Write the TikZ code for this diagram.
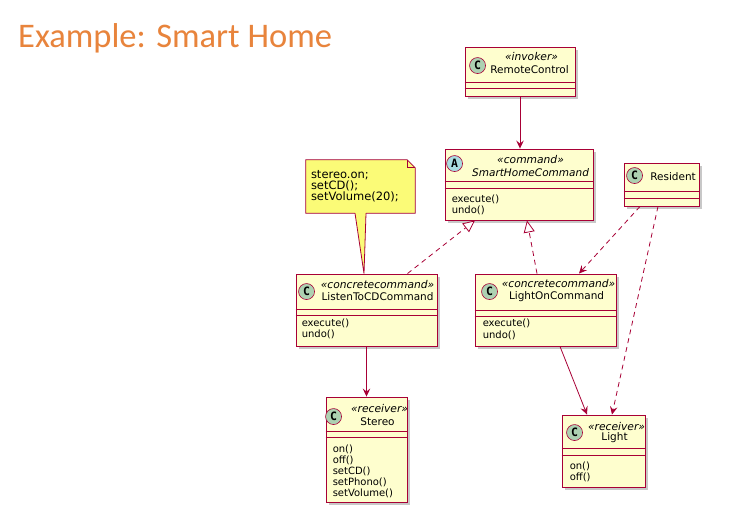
\documentclass[tikz,border=0pt]{standalone}
\usepackage{fontspec}
\setmainfont{DejaVu Sans}
\newfontfamily\titlefont{Carlito}
\newfontfamily\circfont{DejaVu Sans Mono}
\usetikzlibrary{calc}
\usetikzlibrary{positioning}
\usetikzlibrary{arrows.meta}
\usetikzlibrary{shadows}
\definecolor{umlred}{HTML}{A80036}
\definecolor{classbg}{HTML}{FEFECE}
\definecolor{notebg}{HTML}{FBFB77}
\definecolor{circC}{HTML}{ADD1B2}
\definecolor{circA}{HTML}{A9DCDF}
\definecolor{titleorange}{HTML}{E8843C}
\tikzstyle{classbox} = [draw=umlred, fill=classbg, line width=0.9pt, inner sep=0pt, drop shadow={shadow xshift=3pt, shadow yshift=-3pt, opacity=0.3, fill=black!70}]
\tikzstyle{sepline} = [draw=umlred, line width=0.9pt]
\tikzstyle{circnode} = [draw=umlred, circle, line width=0.6pt, minimum size=16pt, inner sep=0pt, font=\circfont\bfseries\fontsize{11.5}{11}\selectfont]
\tikzstyle{stereo} = [inner sep=0pt, font=\itshape\fontsize{10.7}{12}\selectfont]
\tikzstyle{cname} = [inner sep=0pt, font=\fontsize{10.5}{12}\selectfont]
\tikzstyle{method} = [inner sep=0pt, anchor=west, font=\fontsize{10}{12}\selectfont]
\tikzstyle{notetext} = [inner sep=0pt, anchor=west, align=left, font=\fontsize{11.5}{11}\selectfont]
\tikzstyle{assoc} = [draw=umlred, line width=0.8pt, -{Stealth[length=8pt,width=7.5pt,inset=3pt]}]
\tikzstyle{dep} = [assoc, dash pattern=on 5pt off 4pt]
\tikzstyle{real} = [draw=umlred, line width=0.8pt, dash pattern=on 5pt off 4pt, -{Triangle[open,length=12pt,width=11pt,fill=white]}]

\begin{document}
\begin{tikzpicture}[x=1pt, y=-1pt]
    \fill[white] (0,0) rectangle (734,520);
    \useasboundingbox (0,0) rectangle (734,520);

    \node[anchor=base west, inner sep=0pt, text=titleorange,
font=\titlefont\fontsize{34.5}{40}\selectfont] (title) at (18,47) {Example: Smart Home};

    % invoker
    \node[classbox, minimum width=110, minimum height=49] (rc) at (520,71.5) {};
    \draw[sepline] ($(rc.north west)+(0,36)$) -- ($(rc.north east)+(0,36)$);
    \draw[sepline] ($(rc.north west)+(0,42)$) -- ($(rc.north east)+(0,42)$);
    \node[circnode, fill=circC] (rc_c) at ($(rc.north west)+(13,19)$) {C};
    \node[stereo] (rc_st) at ($(rc.north west)+(67,10)$) {«invoker»};
    \node[cname] (rc_n) at ($(rc.north west)+(65,23)$) {RemoteControl};

    % command
    \node[classbox, minimum width=148, minimum height=71] (shc) at (519,184.5) {};
    \draw[sepline] ($(shc.north west)+(0,33)$) -- ($(shc.north east)+(0,33)$);
    \draw[sepline] ($(shc.north west)+(0,40)$) -- ($(shc.north east)+(0,40)$);
    \node[circnode, fill=circA] (shc_c) at ($(shc.north west)+(10,15)$) {A};
    \node[stereo] (shc_st) at ($(shc.north west)+(86,11)$) {«command»};
    \node[cname, font=\itshape\fontsize{10.5}{12}\selectfont] (shc_n) at
($(shc.north west)+(86,24)$) {SmartHomeCommand};
    \node[method] (shc_m1) at ($(shc.north west)+(7,51)$) {execute()};
    \node[method] (shc_m2) at ($(shc.north west)+(7,62)$) {undo()};

    % client
    \node[classbox, minimum width=75, minimum height=43] (res) at (661.5,184.5) {};
    \draw[sepline] ($(res.north west)+(0,29)$) -- ($(res.north east)+(0,29)$);
    \draw[sepline] ($(res.north west)+(0,36)$) -- ($(res.north east)+(0,36)$);
    \node[circnode, fill=circC] (res_c) at ($(res.north west)+(11,13)$) {C};
    \node[cname] (res_n) at ($(res.north west)+(49.5,14)$) {Resident};

    % concrete commands
    \node[classbox, minimum width=141, minimum height=72] (lcd) at (366.5,310) {};
    \draw[sepline] ($(lcd.north west)+(0,36)$) -- ($(lcd.north east)+(0,36)$);
    \draw[sepline] ($(lcd.north west)+(0,42)$) -- ($(lcd.north east)+(0,42)$);
    \node[circnode, fill=circC] (lcd_c) at ($(lcd.north west)+(11,18)$) {C};
    \node[stereo] (lcd_st) at ($(lcd.north west)+(82,11)$) {«concretecommand»};
    \node[cname] (lcd_n) at ($(lcd.north west)+(82,23)$) {ListenToCDCommand};
    \node[method] (lcd_m1) at ($(lcd.north west)+(6,50)$) {execute()};
    \node[method] (lcd_m2) at ($(lcd.north west)+(6,61)$) {undo()};

    \node[classbox, minimum width=141, minimum height=72] (loc) at (545.5,310) {};
    \draw[sepline] ($(loc.north west)+(0,37)$) -- ($(loc.north east)+(0,37)$);
    \draw[sepline] ($(loc.north west)+(0,43)$) -- ($(loc.north east)+(0,43)$);
    \node[circnode, fill=circC] (loc_c) at ($(loc.north west)+(15,18)$) {C};
    \node[stereo] (loc_st) at ($(loc.north west)+(84,10)$) {«concretecommand»};
    \node[cname] (loc_n) at ($(loc.north west)+(82,23)$) {LightOnCommand};
    \node[method] (loc_m1) at ($(loc.north west)+(8,50)$) {execute()};
    \node[method] (loc_m2) at ($(loc.north west)+(8,62)$) {undo()};

    % receivers
    \node[classbox, minimum width=81, minimum height=105] (st) at (366.5,449.5) {};
    \draw[sepline] ($(st.north west)+(0,35)$) -- ($(st.north east)+(0,35)$);
    \draw[sepline] ($(st.north west)+(0,41)$) -- ($(st.north east)+(0,41)$);
    \node[circnode, fill=circC] (st_c) at ($(st.north west)+(8,20)$) {C};
    \node[stereo] (st_st) at ($(st.north west)+(54,12)$) {«receiver»};
    \node[cname] (st_n) at ($(st.north west)+(52,25)$) {Stereo};
    \node[method] (st_m1) at ($(st.north west)+(7,53)$) {on()};
    \node[method] (st_m2) at ($(st.north west)+(7,64)$) {off()};
    \node[method] (st_m3) at ($(st.north west)+(7,75)$) {setCD()};
    \node[method] (st_m4) at ($(st.north west)+(7,86)$) {setPhono()};
    \node[method] (st_m5) at ($(st.north west)+(7,97)$) {setVolume()};

    \node[classbox, minimum width=83, minimum height=72] (li) at (603.5,451) {};
    \draw[sepline] ($(li.north west)+(0,34)$) -- ($(li.north east)+(0,34)$);
    \draw[sepline] ($(li.north west)+(0,41)$) -- ($(li.north east)+(0,41)$);
    \node[circnode, fill=circC] (li_c) at ($(li.north west)+(13,18)$) {C};
    \node[stereo] (li_st) at ($(li.north west)+(55,12)$) {«receiver»};
    \node[cname] (li_n) at ($(li.north west)+(53,23)$) {Light};
    \node[method] (li_m1) at ($(li.north west)+(8,52)$) {on()};
    \node[method] (li_m2) at ($(li.north west)+(8,63)$) {off()};

    % note
    \node[minimum width=109, minimum height=53, inner sep=0pt] (note) at (360.5,186.5) {};
    \fill[black, opacity=0.3, shift={(3,3)}] (note.north west) -- ($(note.north east)+(-8,0)$)
-- ($(note.north east)+(0,8)$) -- (note.south east) -- (note.south west) -- cycle;
    \filldraw[draw=umlred, fill=notebg, line width=0.8pt] (note.north west) --
($(note.north east)+(-8,0)$) -- ($(note.north east)+(0,8)$) -- (note.south east) --
(note.south west) -- cycle;
    \draw[umlred, line width=0.8pt] ($(note.north east)+(-8,0)$) -- ($(note.north east)+(-8,8)$)
-- ($(note.north east)+(0,8)$);
    \fill[notebg] ($(note.south)+(-5.5,-1)$) -- ($(lcd.north)+(-2.5,0)$) -- ($(note.south)+(5.5,-1)$) -- cycle;
    \draw[umlred, line width=0.8pt] ($(note.south)+(-5.5,0)$) -- ($(lcd.north)+(-2.5,0)$)
-- ($(note.south)+(5.5,0)$);
    \node[notetext] (note_t) at ($(note.west)+(5,0)$) {stereo.on;\\setCD();\\setVolume(20);};

    % connectors
    \draw[assoc] (rc.south) -- (rc.south |- shc.north);
    \draw[real] ($(lcd.north)+(41,0)$) -- ($(shc.south)+(-44,0)$);
    \draw[real] ($(loc.north)+(-8.5,0)$) -- ($(shc.south)+(8,0)$);
    \draw[dep] ($(res.south)+(-21.5,0)$) -- ($(loc.north)+(33.5,0)$);
    \draw[dep] ($(res.south)+(-3.5,0)$) -- ($(li.north)+(8.5,0)$);
    \draw[assoc] ($(loc.south)+(14.5,0)$) -- ($(li.north)+(-16.5,0)$);
    \draw[assoc] (lcd.south) -- (st.north);
\end{tikzpicture}
\end{document}
